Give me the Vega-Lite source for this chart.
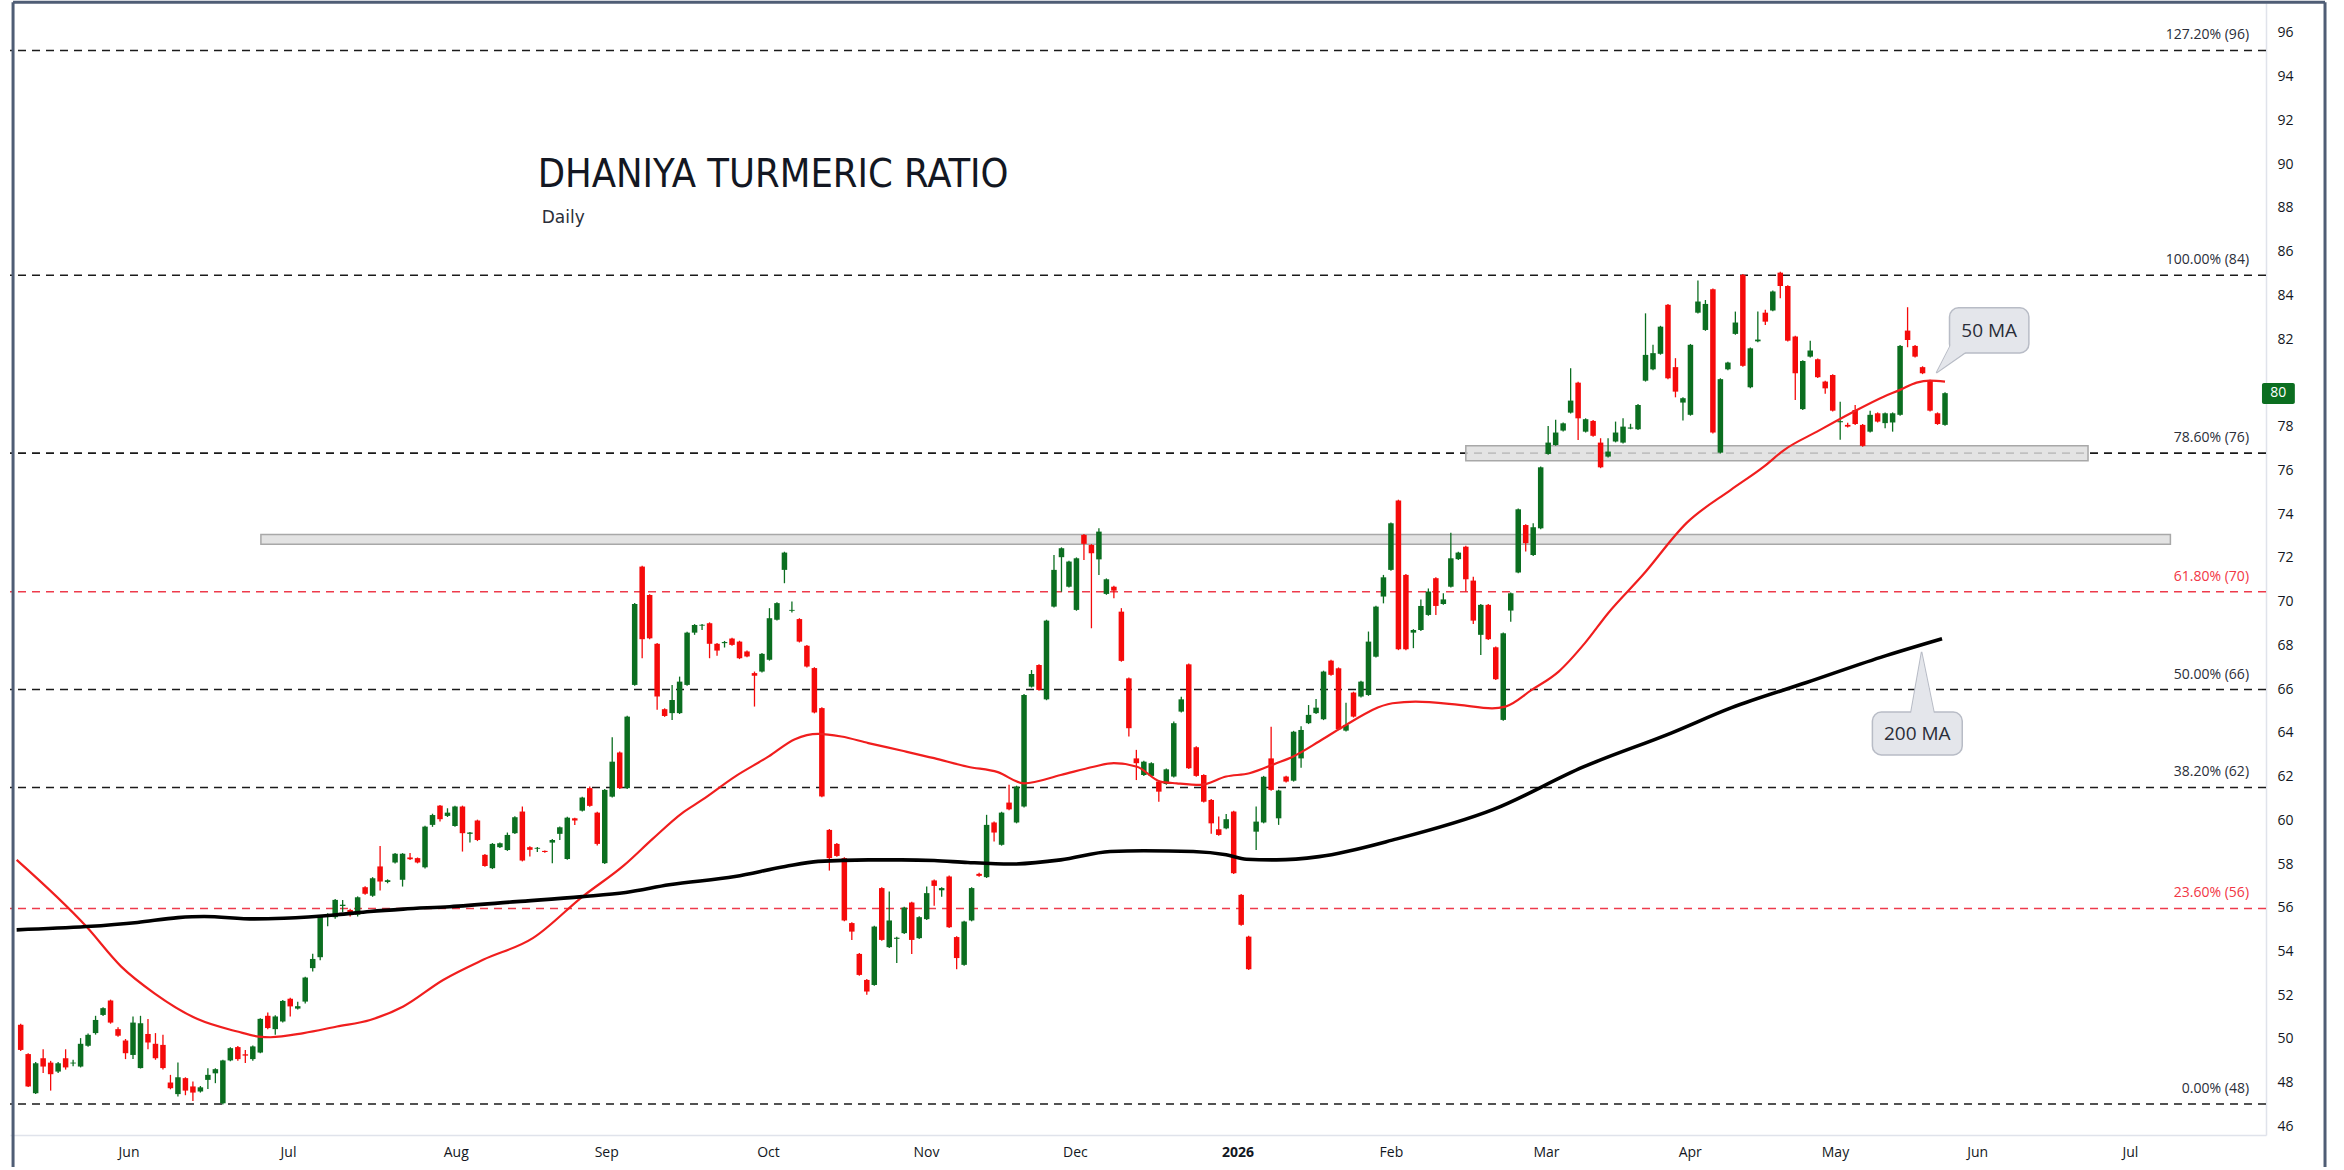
{
  "$schema": "https://vega.github.io/schema/vega-lite/v6.json",
  "width": 2256,
  "height": 1132,
  "autosize": {"type": "none"},
  "padding": {"left": 10, "top": 3, "right": 78, "bottom": 35},
  "background": "#ffffff",
  "config": {"view": {"stroke": null}, "font": "Open Sans"},
  "datasets": {
    "candles": [
      {"bar":0,"o":50.65,"h":50.7,"l":49.45,"c":49.5},
      {"bar":1,"o":49.31,"h":49.35,"l":47.8,"c":47.83},
      {"bar":2,"o":47.52,"h":48.95,"l":47.48,"c":48.89},
      {"bar":3,"o":49.12,"h":49.53,"l":48.44,"c":48.74},
      {"bar":4,"o":48.92,"h":49.0,"l":47.64,"c":48.39},
      {"bar":5,"o":48.51,"h":48.95,"l":48.45,"c":48.89},
      {"bar":6,"o":49.12,"h":49.53,"l":48.6,"c":48.7},
      {"bar":7,"o":48.88,"h":49.05,"l":48.75,"c":48.92},
      {"bar":8,"o":48.74,"h":50.04,"l":48.7,"c":49.78},
      {"bar":9,"o":49.69,"h":50.25,"l":49.65,"c":50.19},
      {"bar":10,"o":50.27,"h":51.06,"l":50.2,"c":50.87},
      {"bar":11,"o":51.1,"h":51.45,"l":51.05,"c":51.41},
      {"bar":12,"o":51.76,"h":51.8,"l":50.7,"c":50.75},
      {"bar":13,"o":50.45,"h":50.54,"l":50.1,"c":50.15},
      {"bar":14,"o":49.93,"h":50.0,"l":49.08,"c":49.35},
      {"bar":15,"o":49.27,"h":51.03,"l":49.08,"c":50.75},
      {"bar":16,"o":48.67,"h":51.06,"l":48.65,"c":50.72},
      {"bar":17,"o":50.23,"h":50.91,"l":49.53,"c":49.84},
      {"bar":18,"o":49.78,"h":50.27,"l":49.05,"c":49.12},
      {"bar":19,"o":49.73,"h":50.19,"l":48.6,"c":48.67},
      {"bar":20,"o":48.01,"h":48.36,"l":47.7,"c":47.75},
      {"bar":21,"o":47.48,"h":48.92,"l":47.37,"c":48.25},
      {"bar":22,"o":48.21,"h":48.25,"l":47.43,"c":47.64},
      {"bar":23,"o":47.83,"h":48.06,"l":47.17,"c":47.55},
      {"bar":24,"o":47.6,"h":47.85,"l":47.55,"c":47.79},
      {"bar":25,"o":48.13,"h":48.66,"l":47.71,"c":48.36},
      {"bar":26,"o":48.43,"h":48.66,"l":47.98,"c":48.62},
      {"bar":27,"o":47.06,"h":49.05,"l":47.0,"c":49.02},
      {"bar":28,"o":49.02,"h":49.62,"l":48.98,"c":49.58},
      {"bar":29,"o":49.63,"h":49.68,"l":49.0,"c":49.08},
      {"bar":30,"o":49.3,"h":49.5,"l":48.9,"c":49.24},
      {"bar":31,"o":49.08,"h":49.7,"l":49.0,"c":49.66},
      {"bar":32,"o":49.38,"h":50.95,"l":49.35,"c":50.92},
      {"bar":33,"o":51.06,"h":51.21,"l":50.45,"c":50.5},
      {"bar":34,"o":50.45,"h":51.08,"l":50.19,"c":51.03},
      {"bar":35,"o":50.8,"h":51.78,"l":50.75,"c":51.74},
      {"bar":36,"o":51.84,"h":51.88,"l":51.03,"c":51.49},
      {"bar":37,"o":51.39,"h":51.7,"l":51.35,"c":51.5},
      {"bar":38,"o":51.71,"h":52.85,"l":51.62,"c":52.81},
      {"bar":39,"o":53.24,"h":53.9,"l":53.09,"c":53.66},
      {"bar":40,"o":53.74,"h":55.65,"l":53.6,"c":55.6},
      {"bar":41,"o":55.6,"h":55.75,"l":55.15,"c":55.68},
      {"bar":42,"o":55.57,"h":56.4,"l":55.5,"c":56.36},
      {"bar":43,"o":56.08,"h":56.36,"l":55.8,"c":56.14},
      {"bar":44,"o":55.9,"h":55.95,"l":55.6,"c":55.68},
      {"bar":45,"o":55.68,"h":56.52,"l":55.6,"c":56.48},
      {"bar":46,"o":56.94,"h":56.98,"l":56.6,"c":56.64},
      {"bar":47,"o":56.55,"h":57.4,"l":56.5,"c":57.35},
      {"bar":48,"o":57.89,"h":58.83,"l":56.79,"c":57.2},
      {"bar":49,"o":57.18,"h":57.3,"l":57.12,"c":57.26},
      {"bar":50,"o":58.07,"h":58.5,"l":58.02,"c":58.47},
      {"bar":51,"o":57.28,"h":58.5,"l":56.97,"c":58.47},
      {"bar":52,"o":58.3,"h":58.5,"l":58.18,"c":58.22},
      {"bar":53,"o":58.27,"h":58.3,"l":58.03,"c":58.07},
      {"bar":54,"o":57.85,"h":59.75,"l":57.8,"c":59.71},
      {"bar":55,"o":59.79,"h":60.3,"l":59.7,"c":60.24},
      {"bar":56,"o":60.67,"h":60.7,"l":59.94,"c":60.05},
      {"bar":57,"o":60.2,"h":60.55,"l":60.15,"c":60.35},
      {"bar":58,"o":59.74,"h":60.67,"l":59.7,"c":60.63},
      {"bar":59,"o":60.63,"h":60.67,"l":58.57,"c":59.41},
      {"bar":60,"o":59.38,"h":59.46,"l":58.98,"c":59.44},
      {"bar":61,"o":59.99,"h":60.03,"l":59.05,"c":59.1},
      {"bar":62,"o":58.42,"h":58.46,"l":57.87,"c":57.91},
      {"bar":63,"o":57.81,"h":58.96,"l":57.77,"c":58.92},
      {"bar":64,"o":58.77,"h":58.99,"l":58.73,"c":58.95},
      {"bar":65,"o":58.64,"h":59.44,"l":58.6,"c":59.33},
      {"bar":66,"o":59.41,"h":60.18,"l":59.37,"c":60.14},
      {"bar":67,"o":60.4,"h":60.63,"l":58.12,"c":58.16},
      {"bar":68,"o":58.77,"h":58.81,"l":58.34,"c":58.65},
      {"bar":69,"o":58.7,"h":58.78,"l":58.55,"c":58.74},
      {"bar":70,"o":58.6,"h":58.62,"l":58.52,"c":58.55},
      {"bar":71,"o":58.98,"h":59.14,"l":58.03,"c":59.1},
      {"bar":72,"o":59.38,"h":59.72,"l":59.1,"c":59.68},
      {"bar":73,"o":58.23,"h":60.16,"l":58.19,"c":60.12},
      {"bar":74,"o":60.09,"h":60.12,"l":59.79,"c":59.99},
      {"bar":75,"o":60.44,"h":61.08,"l":60.4,"c":61.04},
      {"bar":76,"o":61.47,"h":61.54,"l":60.62,"c":60.66},
      {"bar":77,"o":60.35,"h":60.39,"l":58.85,"c":58.92},
      {"bar":78,"o":58.04,"h":61.43,"l":58.0,"c":61.39},
      {"bar":79,"o":61.08,"h":63.8,"l":61.04,"c":62.68},
      {"bar":80,"o":63.1,"h":63.14,"l":61.43,"c":61.47},
      {"bar":81,"o":61.47,"h":64.78,"l":61.43,"c":64.74},
      {"bar":82,"o":66.19,"h":69.93,"l":66.15,"c":69.89},
      {"bar":83,"o":71.6,"h":71.64,"l":67.41,"c":68.28},
      {"bar":84,"o":70.3,"h":70.34,"l":68.28,"c":68.32},
      {"bar":85,"o":68.07,"h":68.11,"l":65.05,"c":65.66},
      {"bar":86,"o":65.08,"h":65.12,"l":64.73,"c":64.77},
      {"bar":87,"o":64.9,"h":66.19,"l":64.59,"c":65.5},
      {"bar":88,"o":64.9,"h":66.57,"l":64.86,"c":66.34},
      {"bar":89,"o":66.19,"h":68.62,"l":66.15,"c":68.58},
      {"bar":90,"o":68.58,"h":68.97,"l":68.48,"c":68.93},
      {"bar":91,"o":68.9,"h":68.97,"l":68.7,"c":68.94},
      {"bar":92,"o":69.01,"h":69.05,"l":67.41,"c":68.07},
      {"bar":93,"o":68.07,"h":68.11,"l":67.52,"c":67.76},
      {"bar":94,"o":68.1,"h":68.2,"l":67.9,"c":68.15},
      {"bar":95,"o":68.31,"h":68.35,"l":67.98,"c":68.02},
      {"bar":96,"o":68.17,"h":68.21,"l":67.37,"c":67.41},
      {"bar":97,"o":67.72,"h":67.76,"l":67.45,"c":67.49},
      {"bar":98,"o":66.73,"h":66.8,"l":65.2,"c":66.61},
      {"bar":99,"o":66.8,"h":67.65,"l":66.76,"c":67.61},
      {"bar":100,"o":67.34,"h":69.7,"l":67.3,"c":69.24},
      {"bar":101,"o":69.17,"h":69.97,"l":69.13,"c":69.93},
      {"bar":102,"o":71.45,"h":72.28,"l":70.84,"c":72.24},
      {"bar":103,"o":69.58,"h":70.0,"l":69.5,"c":69.62},
      {"bar":104,"o":69.2,"h":69.24,"l":68.13,"c":68.17},
      {"bar":105,"o":67.98,"h":68.02,"l":66.99,"c":67.03},
      {"bar":106,"o":66.96,"h":67.0,"l":64.89,"c":64.93},
      {"bar":107,"o":65.13,"h":65.17,"l":61.05,"c":61.09},
      {"bar":108,"o":59.56,"h":59.6,"l":57.7,"c":58.27},
      {"bar":109,"o":58.92,"h":58.96,"l":58.33,"c":58.37},
      {"bar":110,"o":58.27,"h":58.31,"l":55.38,"c":55.42},
      {"bar":111,"o":55.3,"h":55.34,"l":54.53,"c":54.91},
      {"bar":112,"o":53.89,"h":53.93,"l":52.89,"c":52.93},
      {"bar":113,"o":52.7,"h":52.74,"l":52.02,"c":52.17},
      {"bar":114,"o":52.47,"h":55.18,"l":52.43,"c":55.14},
      {"bar":115,"o":56.9,"h":56.94,"l":54.49,"c":54.53},
      {"bar":116,"o":54.2,"h":56.74,"l":54.16,"c":55.42},
      {"bar":117,"o":54.58,"h":54.67,"l":53.47,"c":54.63},
      {"bar":118,"o":54.84,"h":56.05,"l":54.8,"c":56.01},
      {"bar":119,"o":56.24,"h":56.28,"l":53.89,"c":54.53},
      {"bar":120,"o":54.61,"h":55.61,"l":54.57,"c":55.57},
      {"bar":121,"o":55.48,"h":56.97,"l":55.44,"c":56.67},
      {"bar":122,"o":57.25,"h":57.29,"l":56.09,"c":57.0},
      {"bar":123,"o":56.8,"h":56.94,"l":56.5,"c":56.9},
      {"bar":124,"o":57.43,"h":57.47,"l":55.07,"c":55.11},
      {"bar":125,"o":54.66,"h":54.7,"l":53.19,"c":53.7},
      {"bar":126,"o":53.39,"h":55.41,"l":53.35,"c":55.37},
      {"bar":127,"o":55.42,"h":56.94,"l":55.38,"c":56.9},
      {"bar":128,"o":57.55,"h":57.6,"l":57.42,"c":57.46},
      {"bar":129,"o":57.4,"h":60.25,"l":57.36,"c":59.79},
      {"bar":130,"o":59.9,"h":59.94,"l":59.03,"c":59.44},
      {"bar":131,"o":58.88,"h":60.39,"l":58.84,"c":60.35},
      {"bar":132,"o":60.81,"h":61.62,"l":60.46,"c":60.5},
      {"bar":133,"o":59.9,"h":61.58,"l":59.86,"c":61.54},
      {"bar":134,"o":60.63,"h":65.77,"l":60.59,"c":65.73},
      {"bar":135,"o":66.11,"h":66.87,"l":66.07,"c":66.69},
      {"bar":136,"o":67.1,"h":67.14,"l":65.92,"c":65.96},
      {"bar":137,"o":65.53,"h":69.17,"l":65.49,"c":69.13},
      {"bar":138,"o":69.77,"h":72.13,"l":69.73,"c":71.45},
      {"bar":139,"o":72.03,"h":72.48,"l":70.45,"c":72.44},
      {"bar":140,"o":70.68,"h":71.87,"l":70.64,"c":71.83},
      {"bar":141,"o":69.62,"h":72.02,"l":69.58,"c":71.98},
      {"bar":142,"o":73.05,"h":73.09,"l":71.9,"c":72.64},
      {"bar":143,"o":72.59,"h":72.63,"l":68.78,"c":72.21},
      {"bar":144,"o":71.93,"h":73.35,"l":71.22,"c":73.2},
      {"bar":145,"o":70.35,"h":71.06,"l":70.31,"c":71.02},
      {"bar":146,"o":70.68,"h":70.72,"l":70.15,"c":70.5},
      {"bar":147,"o":69.54,"h":69.7,"l":67.25,"c":67.29},
      {"bar":148,"o":66.49,"h":66.53,"l":63.83,"c":64.21},
      {"bar":149,"o":62.83,"h":63.22,"l":61.84,"c":62.61},
      {"bar":150,"o":62.07,"h":62.72,"l":62.03,"c":62.68},
      {"bar":151,"o":62.03,"h":62.65,"l":61.99,"c":62.61},
      {"bar":152,"o":61.77,"h":61.81,"l":60.85,"c":61.31},
      {"bar":153,"o":61.66,"h":62.37,"l":61.62,"c":62.33},
      {"bar":154,"o":62.0,"h":64.52,"l":61.96,"c":64.44},
      {"bar":155,"o":64.97,"h":65.65,"l":64.93,"c":65.53},
      {"bar":156,"o":67.13,"h":67.17,"l":62.34,"c":62.38},
      {"bar":157,"o":63.34,"h":63.38,"l":61.99,"c":62.03},
      {"bar":158,"o":62.07,"h":62.11,"l":60.81,"c":60.85},
      {"bar":159,"o":60.93,"h":60.97,"l":59.38,"c":59.86},
      {"bar":160,"o":59.59,"h":60.17,"l":59.29,"c":59.33},
      {"bar":161,"o":59.63,"h":60.29,"l":59.59,"c":60.05},
      {"bar":162,"o":60.4,"h":60.44,"l":57.54,"c":57.58},
      {"bar":163,"o":56.59,"h":56.63,"l":55.18,"c":55.22},
      {"bar":164,"o":54.68,"h":54.72,"l":53.15,"c":53.19},
      {"bar":165,"o":59.48,"h":60.63,"l":58.64,"c":59.94},
      {"bar":166,"o":59.9,"h":62.03,"l":59.86,"c":61.99},
      {"bar":167,"o":62.83,"h":64.28,"l":61.35,"c":61.39},
      {"bar":168,"o":60.09,"h":61.4,"l":59.79,"c":61.36},
      {"bar":169,"o":62.0,"h":62.04,"l":61.73,"c":61.77},
      {"bar":170,"o":61.81,"h":64.09,"l":61.77,"c":64.05},
      {"bar":171,"o":62.83,"h":64.3,"l":62.4,"c":64.13},
      {"bar":172,"o":64.44,"h":65.27,"l":64.4,"c":64.82},
      {"bar":173,"o":64.9,"h":65.55,"l":64.86,"c":65.15},
      {"bar":174,"o":64.62,"h":66.84,"l":64.58,"c":66.8},
      {"bar":175,"o":67.3,"h":67.34,"l":66.61,"c":66.65},
      {"bar":176,"o":66.95,"h":66.99,"l":64.12,"c":64.16},
      {"bar":177,"o":64.1,"h":65.38,"l":64.06,"c":64.36},
      {"bar":178,"o":65.84,"h":65.88,"l":64.7,"c":64.74},
      {"bar":179,"o":65.66,"h":66.38,"l":65.62,"c":66.34},
      {"bar":180,"o":65.73,"h":68.63,"l":65.69,"c":68.17},
      {"bar":181,"o":67.48,"h":69.81,"l":67.44,"c":69.77},
      {"bar":182,"o":70.23,"h":71.22,"l":69.92,"c":71.11},
      {"bar":183,"o":71.45,"h":73.62,"l":71.41,"c":73.58},
      {"bar":184,"o":74.62,"h":74.66,"l":67.78,"c":67.82},
      {"bar":185,"o":71.22,"h":71.26,"l":67.78,"c":67.82},
      {"bar":186,"o":68.58,"h":68.74,"l":67.87,"c":68.7},
      {"bar":187,"o":68.7,"h":70.1,"l":68.66,"c":69.8},
      {"bar":188,"o":69.39,"h":70.6,"l":69.35,"c":70.46},
      {"bar":189,"o":71.07,"h":71.11,"l":69.39,"c":69.8},
      {"bar":190,"o":69.89,"h":70.38,"l":69.85,"c":70.1},
      {"bar":191,"o":70.68,"h":73.15,"l":70.64,"c":71.98},
      {"bar":192,"o":71.94,"h":72.28,"l":71.9,"c":72.24},
      {"bar":193,"o":72.51,"h":72.55,"l":70.46,"c":71.02},
      {"bar":194,"o":70.96,"h":71.14,"l":68.98,"c":69.13},
      {"bar":195,"o":68.48,"h":69.89,"l":67.56,"c":69.85},
      {"bar":196,"o":69.85,"h":69.89,"l":68.24,"c":68.28},
      {"bar":197,"o":67.91,"h":67.95,"l":66.41,"c":66.45},
      {"bar":198,"o":64.59,"h":68.59,"l":64.55,"c":68.55},
      {"bar":199,"o":69.59,"h":70.42,"l":69.08,"c":70.38},
      {"bar":200,"o":71.33,"h":74.26,"l":71.29,"c":74.22},
      {"bar":201,"o":73.5,"h":73.54,"l":72.29,"c":72.67},
      {"bar":202,"o":72.13,"h":73.58,"l":72.09,"c":73.4},
      {"bar":203,"o":73.35,"h":76.18,"l":73.31,"c":76.14},
      {"bar":204,"o":76.75,"h":78.03,"l":76.71,"c":77.27},
      {"bar":205,"o":77.16,"h":78.31,"l":77.12,"c":77.73},
      {"bar":206,"o":77.82,"h":78.19,"l":77.78,"c":78.15},
      {"bar":207,"o":78.64,"h":80.67,"l":78.6,"c":79.19},
      {"bar":208,"o":80.01,"h":80.05,"l":77.39,"c":78.38},
      {"bar":209,"o":77.77,"h":78.38,"l":77.73,"c":78.34},
      {"bar":210,"o":78.26,"h":78.3,"l":77.54,"c":77.58},
      {"bar":211,"o":77.27,"h":77.47,"l":76.1,"c":76.14},
      {"bar":212,"o":76.63,"h":77.47,"l":76.59,"c":76.86},
      {"bar":213,"o":77.32,"h":78.23,"l":77.28,"c":77.73},
      {"bar":214,"o":77.27,"h":78.38,"l":77.23,"c":78.0},
      {"bar":215,"o":77.91,"h":78.13,"l":77.88,"c":77.96},
      {"bar":216,"o":77.88,"h":79.03,"l":77.84,"c":78.99},
      {"bar":217,"o":80.1,"h":83.18,"l":80.06,"c":81.28},
      {"bar":218,"o":80.62,"h":81.74,"l":80.58,"c":81.36},
      {"bar":219,"o":81.33,"h":82.61,"l":81.29,"c":82.57},
      {"bar":220,"o":83.57,"h":83.61,"l":80.17,"c":80.21},
      {"bar":221,"o":80.72,"h":81.13,"l":79.34,"c":79.6},
      {"bar":222,"o":79.1,"h":79.34,"l":78.28,"c":79.3},
      {"bar":223,"o":78.54,"h":81.78,"l":78.5,"c":81.74},
      {"bar":224,"o":83.21,"h":84.68,"l":83.17,"c":83.72},
      {"bar":225,"o":82.42,"h":83.79,"l":82.38,"c":83.61},
      {"bar":226,"o":84.28,"h":84.32,"l":77.69,"c":77.73},
      {"bar":227,"o":76.81,"h":80.21,"l":76.77,"c":80.17},
      {"bar":228,"o":80.62,"h":80.97,"l":80.58,"c":80.93},
      {"bar":229,"o":82.24,"h":83.26,"l":82.2,"c":82.76},
      {"bar":230,"o":84.94,"h":84.98,"l":80.74,"c":80.78},
      {"bar":231,"o":79.8,"h":81.62,"l":79.76,"c":81.58},
      {"bar":232,"o":81.9,"h":83.26,"l":81.86,"c":81.98},
      {"bar":233,"o":83.21,"h":83.34,"l":82.65,"c":82.8},
      {"bar":234,"o":83.31,"h":84.22,"l":83.27,"c":84.18},
      {"bar":235,"o":85.04,"h":85.08,"l":83.87,"c":84.43},
      {"bar":236,"o":84.43,"h":84.47,"l":81.89,"c":81.93},
      {"bar":237,"o":82.12,"h":82.16,"l":79.22,"c":80.44},
      {"bar":238,"o":78.8,"h":81.04,"l":78.76,"c":81.0},
      {"bar":239,"o":81.2,"h":81.93,"l":81.16,"c":81.48},
      {"bar":240,"o":81.08,"h":81.12,"l":80.22,"c":80.26},
      {"bar":241,"o":80.06,"h":80.1,"l":79.5,"c":79.75},
      {"bar":242,"o":80.36,"h":80.4,"l":78.69,"c":78.73},
      {"bar":243,"o":78.2,"h":79.14,"l":77.4,"c":78.25},
      {"bar":244,"o":78.08,"h":78.18,"l":77.96,"c":78.0},
      {"bar":245,"o":78.76,"h":78.99,"l":78.08,"c":78.12},
      {"bar":246,"o":78.08,"h":78.12,"l":77.08,"c":77.12},
      {"bar":247,"o":77.77,"h":78.73,"l":77.73,"c":78.54},
      {"bar":248,"o":78.61,"h":78.65,"l":78.19,"c":78.23},
      {"bar":249,"o":78.16,"h":78.65,"l":77.93,"c":78.61},
      {"bar":250,"o":78.19,"h":78.65,"l":77.77,"c":78.61},
      {"bar":251,"o":78.54,"h":81.73,"l":78.5,"c":81.69},
      {"bar":252,"o":82.39,"h":83.46,"l":81.63,"c":81.96},
      {"bar":253,"o":81.69,"h":81.73,"l":81.16,"c":81.2},
      {"bar":254,"o":80.72,"h":80.76,"l":80.4,"c":80.44},
      {"bar":255,"o":80.1,"h":80.14,"l":78.69,"c":78.73},
      {"bar":256,"o":78.61,"h":78.65,"l":78.08,"c":78.12},
      {"bar":257,"o":78.08,"h":79.57,"l":78.04,"c":79.53}
    ],
    "ma50": [
      {"bar":-0.54,"v":58.19},{"bar":8.77,"v":55.14},{"bar":13.43,"v":53.31},{"bar":17.86,"v":52.09},
      {"bar":23.62,"v":50.91},{"bar":28.94,"v":50.34},{"bar":31.82,"v":50.11},{"bar":33.37,"v":50.08},
      {"bar":37.8,"v":50.27},{"bar":42.24,"v":50.57},{"bar":46.67,"v":50.87},{"bar":51.1,"v":51.49},
      {"bar":56.42,"v":52.7},{"bar":61.75,"v":53.62},{"bar":68.4,"v":54.61},{"bar":75.04,"v":56.51},
      {"bar":80.6,"v":57.95},{"bar":84.4,"v":59.15},{"bar":88.3,"v":60.32},{"bar":91.0,"v":60.93},
      {"bar":95.4,"v":62.0},{"bar":99.9,"v":62.92},{"bar":103.4,"v":63.71},{"bar":106.5,"v":63.95},
      {"bar":109.6,"v":63.83},{"bar":113.2,"v":63.53},{"bar":117.6,"v":63.19},{"bar":122.0,"v":62.84},
      {"bar":126.5,"v":62.45},{"bar":130.5,"v":62.2},{"bar":134.0,"v":61.69},{"bar":138.9,"v":62.07},
      {"bar":143.3,"v":62.45},{"bar":146.0,"v":62.61},{"bar":149.1,"v":62.45},{"bar":152.2,"v":61.77},
      {"bar":154.4,"v":61.69},{"bar":157.5,"v":61.62},{"bar":161.0,"v":62.0},{"bar":164.1,"v":62.15},
      {"bar":167.7,"v":62.61},{"bar":169.9,"v":62.91},{"bar":173.4,"v":63.6},{"bar":176.6,"v":64.28},
      {"bar":183.2,"v":65.35},{"bar":186.3,"v":65.43},{"bar":192.1,"v":65.28},{"bar":196.5,"v":65.12},
      {"bar":198.3,"v":65.2},{"bar":201.8,"v":65.96},{"bar":205.4,"v":66.8},{"bar":208.9,"v":68.1},
      {"bar":212.0,"v":69.47},{"bar":216.6,"v":71.2},{"bar":222.5,"v":73.6},{"bar":228.4,"v":75.11},
      {"bar":232.8,"v":76.17},{"bar":235.5,"v":76.93},{"bar":239.9,"v":77.77},{"bar":244.4,"v":78.61},
      {"bar":248.8,"v":79.37},{"bar":251.0,"v":79.68},{"bar":253.2,"v":80.01},{"bar":255.0,"v":80.1},
      {"bar":257.0,"v":80.06}
    ],
    "ma200": [
      {"bar":-0.54,"v":54.99},{"bar":8.77,"v":55.14},{"bar":15.6,"v":55.33},{"bar":21.0,"v":55.55},
      {"bar":24.5,"v":55.6},{"bar":31.2,"v":55.49},{"bar":35.15,"v":55.52},{"bar":42.24,"v":55.68},
      {"bar":46.67,"v":55.83},{"bar":51.1,"v":55.94},{"bar":57.3,"v":56.05},{"bar":66.2,"v":56.28},
      {"bar":75.0,"v":56.51},{"bar":80.8,"v":56.7},{"bar":86.6,"v":57.05},{"bar":95.4,"v":57.43},
      {"bar":102.1,"v":57.89},{"bar":106.5,"v":58.12},{"bar":113.2,"v":58.19},{"bar":117.6,"v":58.19},
      {"bar":122.0,"v":58.16},{"bar":126.5,"v":58.07},{"bar":132.2,"v":58.0},{"bar":138.9,"v":58.19},
      {"bar":145.5,"v":58.57},{"bar":150.0,"v":58.61},{"bar":156.6,"v":58.57},{"bar":161.0,"v":58.42},
      {"bar":163.7,"v":58.22},{"bar":167.7,"v":58.19},{"bar":173.4,"v":58.34},{"bar":183.8,"v":59.15},
      {"bar":196.7,"v":60.5},{"bar":208.7,"v":62.44},{"bar":220.5,"v":64.0},{"bar":228.5,"v":65.15},
      {"bar":238.5,"v":66.3},{"bar":248.4,"v":67.45},{"bar":256.6,"v":68.3}
    ],
    "fib": [
      {"pct":127.2,"level":95.2,"label":"127.20% (96)"},
      {"pct":100.0,"level":84.92,"label":"100.00% (84)"},
      {"pct":78.6,"level":76.79,"label":"78.60% (76)"},
      {"pct":61.8,"level":70.45,"label":"61.80% (70)"},
      {"pct":50.0,"level":65.98,"label":"50.00% (66)"},
      {"pct":38.2,"level":61.5,"label":"38.20% (62)"},
      {"pct":23.6,"level":55.97,"label":"23.60% (56)"},
      {"pct":0.0,"level":47.03,"label":"0.00% (48)"}
    ],
    "zones": [
      {"start":32.08,"end":287.1,"low":72.62,"high":73.07},
      {"start":193.0,"end":276.1,"low":76.44,"high":77.12}
    ]
  },
  "layer": [
    {
      "data": {"name": "fib"},
      "mark": {"type": "rule", "strokeDash": [8, 6], "strokeWidth": 1.6},
      "encoding": {
        "y": {"field": "level", "type": "quantitative",
              "scale": {"domain": [45.61, 97.37], "nice": false, "zero": false},
              "axis": {"orient": "right", "values": [46,48,50,52,54,56,58,60,62,64,66,68,70,72,74,76,78,82,84,86,88,90,92,94,96],
                       "title": null, "ticks": false, "grid": false, "domainColor": "#e0e3eb", "domainWidth": 1.5,
                       "labelFont": "Open Sans", "labelFontSize": 14, "labelColor": "#131722", "labelPadding": 11}},
        "color": {"condition": {"test": "datum.pct == 61.8 || datum.pct == 23.6", "value": "#ee3b4b"}, "value": "#1a1a1a"}
      }
    },
    {
      "data": {"name": "fib"},
      "mark": {"type": "text", "align": "right", "baseline": "alphabetic", "dy": -11, "fontSize": 14, "font": "Open Sans"},
      "encoding": {
        "x": {"datum": 297.6, "type": "quantitative"},
        "y": {"field": "level", "type": "quantitative"},
        "text": {"field": "label"},
        "color": {"condition": {"test": "datum.pct == 61.8 || datum.pct == 23.6", "value": "#f23645"}, "value": "#2a2e39"}
      }
    },
    {
      "data": {"name": "zones"},
      "mark": {"type": "rect", "fill": "#dedede", "fillOpacity": 0.85, "stroke": "#a8a8a8", "strokeWidth": 1.5},
      "encoding": {
        "x": {"field": "start", "type": "quantitative"},
        "x2": {"field": "end"},
        "y": {"field": "low", "type": "quantitative"},
        "y2": {"field": "high"}
      }
    },
    {
      "data": {"name": "candles"},
      "mark": {"type": "rule", "strokeWidth": 1.3},
      "encoding": {
        "x": {"field": "bar", "type": "quantitative",
              "scale": {"domain": [-0.76, 299.2], "nice": false, "zero": false},
              "axis": {"values": [14.4, 35.7, 58.1, 78.2, 99.8, 120.9, 140.8, 162.5, 183.0, 203.7, 222.9, 242.3, 261.3, 281.7],
                       "labelExpr": "datum.value < 25 ? 'Jun' : datum.value < 47 ? 'Jul' : datum.value < 68 ? 'Aug' : datum.value < 89 ? 'Sep' : datum.value < 110 ? 'Oct' : datum.value < 130 ? 'Nov' : datum.value < 151 ? 'Dec' : datum.value < 172 ? '2026' : datum.value < 193 ? 'Feb' : datum.value < 213 ? 'Mar' : datum.value < 232 ? 'Apr' : datum.value < 251 ? 'May' : datum.value < 271 ? 'Jun' : 'Jul'",
                       "labelFontWeight": {"condition": {"test": "datum.value > 160 && datum.value < 165", "value": "bold"}, "value": "normal"},
                       "title": null, "ticks": false, "grid": false, "domainColor": "#e0e3eb", "domainWidth": 1.5,
                       "labelFont": "Open Sans", "labelFontSize": 14, "labelColor": "#131722", "labelPadding": 10, "labelFlush": false}},
        "y": {"field": "l", "type": "quantitative"},
        "y2": {"field": "h"},
        "color": {"condition": {"test": "datum.c >= datum.o", "value": "#0b6e20"}, "value": "#f50a0a"}
      }
    },
    {
      "data": {"name": "candles"},
      "mark": {"type": "bar", "size": 5.5},
      "encoding": {
        "x": {"field": "bar", "type": "quantitative"},
        "y": {"field": "o", "type": "quantitative"},
        "y2": {"field": "c"},
        "color": {"condition": {"test": "datum.c >= datum.o", "value": "#0b6e20"}, "value": "#f50a0a"}
      }
    },
    {
      "data": {"name": "ma50"},
      "mark": {"type": "line", "color": "#f01e1e", "strokeWidth": 2.2, "interpolate": "monotone"},
      "encoding": {
        "x": {"field": "bar", "type": "quantitative"},
        "y": {"field": "v", "type": "quantitative"}
      }
    },
    {
      "data": {"name": "ma200"},
      "mark": {"type": "line", "color": "#000000", "strokeWidth": 3.6, "interpolate": "monotone"},
      "encoding": {
        "x": {"field": "bar", "type": "quantitative"},
        "y": {"field": "v", "type": "quantitative"}
      }
    },
    {
      "data": {"values": [{}]},
      "mark": {"type": "text", "text": "DHANIYA TURMERIC RATIO", "align": "left", "baseline": "alphabetic", "fontSize": 39.5, "font": "Liberation Sans Narrow, Arial Narrow, DejaVu Sans Condensed, sans-serif", "color": "#131722"},
      "encoding": {"x": {"datum": 69.04, "type": "quantitative"}, "y": {"datum": 88.96, "type": "quantitative"}}
    },
    {
      "data": {"values": [{}]},
      "mark": {"type": "text", "text": "Daily", "align": "left", "baseline": "alphabetic", "fontSize": 17, "font": "DejaVu Sans", "color": "#2a2e39"},
      "encoding": {"x": {"datum": 69.58, "type": "quantitative"}, "y": {"datum": 87.31, "type": "quantitative"}}
    },
    {
      "data": {"values": [{"cx": 257.85, "cy": 81.51, "shape": "M-0.5,0.77L0.1,-0.4L0.6,0Z"}, {"cx": 253.99, "cy": 66.33, "shape": "M-0.03,-1L-0.4,1.1L0.4,1.1Z"}]},
      "mark": {"type": "point", "filled": true, "fill": "#e4e6eb", "stroke": "#b8bcc6", "strokeWidth": 1.5, "size": 3600, "opacity": 1, "fillOpacity": 1},
      "encoding": {
        "x": {"field": "cx", "type": "quantitative"},
        "y": {"field": "cy", "type": "quantitative"},
        "shape": {"field": "shape", "type": "nominal", "scale": null}
      }
    },
    {
      "data": {"values": [{"x0": 257.6, "x1": 268.2, "y0": 81.37, "y1": 83.43}, {"x0": 247.3, "x1": 259.3, "y0": 62.99, "y1": 64.95}]},
      "mark": {"type": "rect", "fill": "#e4e6eb", "stroke": "#b8bcc6", "strokeWidth": 1.5, "cornerRadius": 9},
      "encoding": {
        "x": {"field": "x0", "type": "quantitative"},
        "x2": {"field": "x1"},
        "y": {"field": "y0", "type": "quantitative"},
        "y2": {"field": "y1"}
      }
    },
    {
      "data": {"values": [{"cx": 257.85, "cy": 81.51, "shape": "M-0.5,0.77L0.1,-0.4L0.6,0Z"}, {"cx": 253.99, "cy": 66.33, "shape": "M-0.03,-1L-0.4,1.1L0.4,1.1Z"}]},
      "mark": {"type": "point", "filled": true, "fill": "#e4e6eb", "strokeWidth": 0, "size": 3300, "opacity": 1},
      "encoding": {
        "x": {"field": "cx", "type": "quantitative"},
        "y": {"field": "cy", "type": "quantitative"},
        "shape": {"field": "shape", "type": "nominal", "scale": null}
      }
    },
    {
      "data": {"values": [{"t": "50 MA", "x": 262.9, "y": 82.38}, {"t": "200 MA", "x": 253.3, "y": 63.95}]},
      "mark": {"type": "text", "align": "center", "baseline": "middle", "fontSize": 19, "font": "Open Sans", "color": "#2a2e39"},
      "encoding": {
        "x": {"field": "x", "type": "quantitative"},
        "y": {"field": "y", "type": "quantitative"},
        "text": {"field": "t"}
      }
    },
    {
      "data": {"values": [{}]},
      "mark": {"type": "rect", "fill": "#0b6e20", "cornerRadius": 2},
      "encoding": {
        "x": {"datum": 299.33, "type": "quantitative"}, "x2": {"datum": 303.72},
        "y": {"datum": 79.04, "type": "quantitative"}, "y2": {"datum": 80.0}
      }
    },
    {
      "data": {"values": [{}]},
      "mark": {"type": "text", "text": "80", "align": "center", "baseline": "middle", "fontSize": 14, "font": "Open Sans", "color": "#ffffff"},
      "encoding": {"x": {"datum": 301.5, "type": "quantitative"}, "y": {"datum": 79.52, "type": "quantitative"}}
    },
    {
      "data": {"values": [{}]},
      "mark": {"type": "rule", "color": "#4f5d75", "strokeWidth": 3},
      "encoding": {
        "x": {"datum": -1.02, "type": "quantitative"}, "x2": {"datum": 307.75},
        "y": {"datum": 97.4, "type": "quantitative"}
      }
    },
    {
      "data": {"values": [{}]},
      "mark": {"type": "rule", "color": "#4f5d75", "strokeWidth": 3},
      "encoding": {
        "x": {"datum": -1.02, "type": "quantitative"},
        "y": {"datum": 97.4, "type": "quantitative"}, "y2": {"datum": 44.15}
      }
    },
    {
      "data": {"values": [{}]},
      "mark": {"type": "rule", "color": "#4f5d75", "strokeWidth": 3},
      "encoding": {
        "x": {"datum": 307.75, "type": "quantitative"},
        "y": {"datum": 97.4, "type": "quantitative"}, "y2": {"datum": 44.15}
      }
    }
  ]
}
